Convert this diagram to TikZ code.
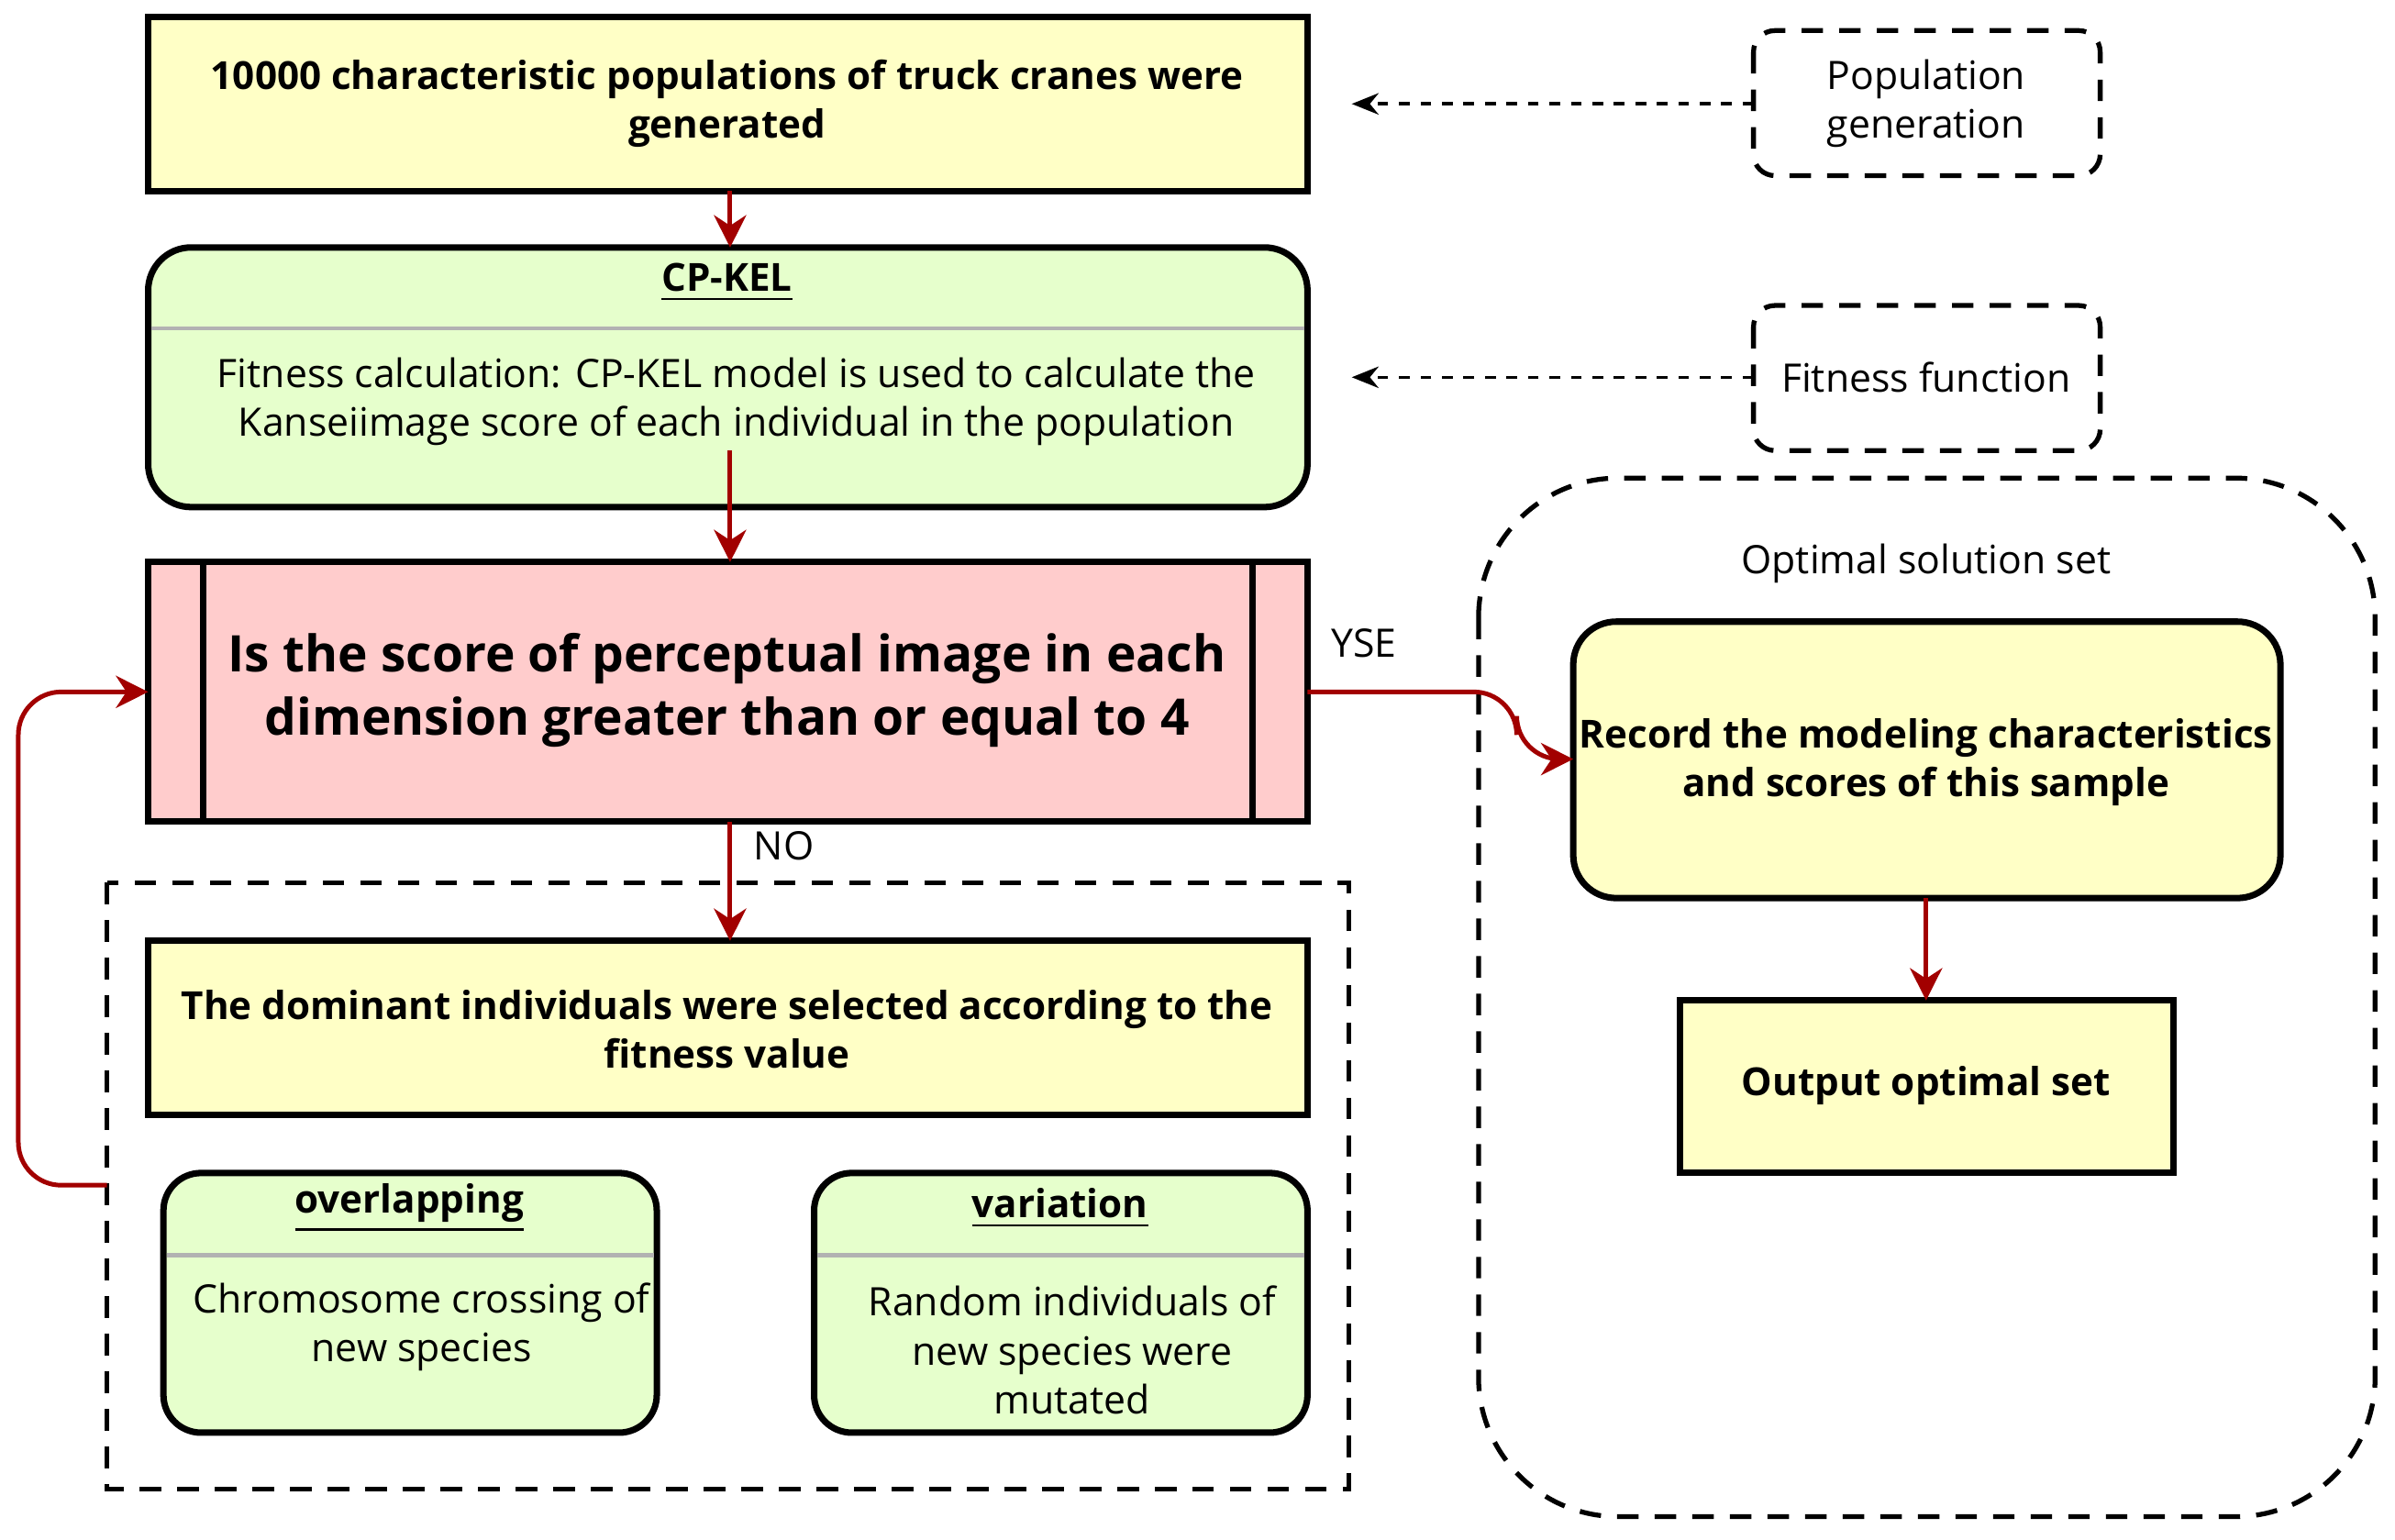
\documentclass[tikz,border=0pt]{standalone}
\usepackage{fontspec}
\setmainfont{Open Sans}
\usetikzlibrary{arrows.meta}
\definecolor{yel}{HTML}{FFFFC6}
\definecolor{grn}{HTML}{E6FFCC}
\definecolor{pnk}{HTML}{FFCCCC}
\definecolor{rd}{HTML}{A20000}
\begin{document}
\begin{tikzpicture}[x=0.01cm,y=-0.01cm,
  box/.style={draw=black,line width=1.2pt,inner sep=0pt},
  txt/.style={font=\fontsize{7.3}{9.1}\selectfont,align=center,inner sep=0pt},
  btxt/.style={font=\fontsize{7.2}{9.1}\selectfont\bfseries,align=center,inner sep=0pt},
  dgrp/.style={draw=black,line width=0.9pt,dash pattern=on 4pt off 3pt},
  rarr/.style={draw=rd,line width=0.85pt,-{Stealth[length=6pt,width=6pt]}},
  darr/.style={draw=black,line width=0.6pt,dash pattern=on 2pt off 2pt,-{Stealth[length=5pt,width=4pt]}},
  sep/.style={draw=black!30,line width=0.8pt}]
\useasboundingbox (0,0) rectangle (1568,1008);
% dashed groups
\draw[dgrp] (70,578) rectangle (883,975);
\draw[dgrp,rounded corners=26pt] (968,313) rectangle (1555,993);
\node[txt] (optl) at (1261,369) {Optimal solution set};
\draw[dgrp,rounded corners=4pt] (1148,20) rectangle (1375,115);
\node[txt] (popg) at (1261,68) {Population\\[0pt]generation};
\coordinate (popw) at (1148,68);
\draw[dgrp,rounded corners=4pt] (1148,200) rectangle (1375,295);
\node[txt] (fitf) at (1261,247) {Fitness function};
\coordinate (fitw) at (1148,247);
% box1
\draw[box,fill=yel] (97,11) rectangle (856,125);
\node[btxt] (b1) at (476,68) {10000 characteristic populations of truck cranes were\\generated};
\coordinate (b1s) at (478,125);
% box2
\draw[box,fill=grn,rounded corners=8pt] (97,162) rectangle (856,332);
\draw[sep] (99,215) -- (854,215);
\node[btxt] (b2t) at (476,185) {\underline{CP-KEL}};
\node[txt] (b2) at (482,263) {Fitness calculation: CP-KEL model is used to calculate the\\Kanseiimage score of each individual in the population};
\coordinate (b2n) at (478,162);
\coordinate (b2s) at (478,295);
% box3
\draw[box,fill=pnk] (97,368) rectangle (856,538);
\draw[box] (133,368) -- (133,538) (820,368) -- (820,538);
\node[font=\fontsize{9.4}{11.9}\selectfont\bfseries,align=center,inner sep=0pt] (b3) at (476,452) {Is the score of perceptual image in each\\dimension greater than or equal to 4};
\coordinate (b3n) at (478,368);
\coordinate (b3s) at (478,538);
\coordinate (b3e) at (856,453);
\coordinate (b3w) at (97,453);
% box4
\draw[box,fill=yel] (97,616) rectangle (856,730);
\node[btxt] (b4) at (476,674) {The dominant individuals were selected according to the\\fitness value};
\coordinate (b4n) at (478,616);
% overlapping
\draw[box,fill=grn,rounded corners=7pt] (107,768) rectangle (430,938);
\draw[sep] (109,822) -- (428,822);
\node[btxt] (ovt) at (268,791) {\underline{overlapping}};
\node[txt] (ov) at (276,869) {Chromosome crossing of\\new species};
% variation
\draw[box,fill=grn,rounded corners=7pt] (533,768) rectangle (856,938);
\draw[sep] (535,822) -- (854,822);
\node[btxt] (vat) at (694,791) {\underline{variation}};
\node[txt] (va) at (702,884) {Random individuals of\\new species were\\mutated};
% record
\draw[box,fill=yel,rounded corners=8pt] (1030,407) rectangle (1493,588);
\node[btxt] (rec) at (1261,499) {Record the modeling characteristics\\and scores of this sample};
\coordinate (recw) at (1030,497);
\coordinate (recs) at (1261,588);
% output
\draw[box,fill=yel] (1100,655) rectangle (1423,768);
\node[btxt] (out) at (1261,711) {Output optimal set};
\coordinate (outn) at (1261,655);
% connectors
\coordinate (b1a) at (885,68);
\coordinate (b2a) at (885,247);
\draw[darr] (popw) -- (b1a);
\draw[darr] (fitw) -- (b2a);
\draw[rarr] (b1s) -- (b2n);
\draw[rarr] (b2s) -- (b3n);
\draw[rarr] (b3s) -- node[pos=0.2,right=4pt,txt]{NO} (b4n);
\draw[rarr,rounded corners=8pt] (b3e) -- (993,453) -- (993,497) -- (recw);
\node[txt] (yse) at (893,421) {YSE};
\coordinate (grpw) at (70,776);
\draw[rarr,rounded corners=8pt] (grpw) -- (12,776) -- (12,453) -- (b3w);
\draw[rarr] (recs) -- (outn);
\end{tikzpicture}
\end{document}
